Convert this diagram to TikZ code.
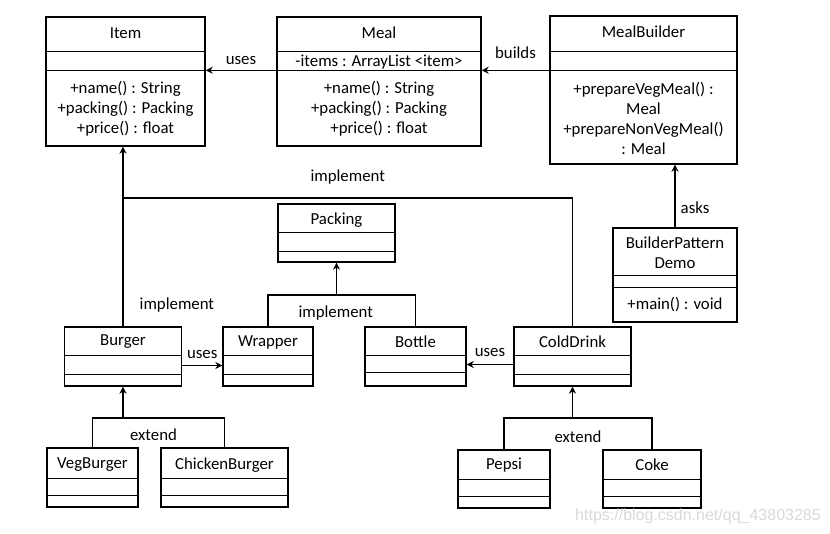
\documentclass[tikz,border=0pt]{standalone}
\usepackage{fontspec}
\setmainfont{Carlito}
\usetikzlibrary{arrows.meta,positioning}

\tikzset{
  cls/.style={draw, line width=1.4pt, inner sep=0pt},
  arr/.style={-{Stealth[length=7pt,width=7pt]}, line width=1.4pt},
  bar/.style={line width=1.4pt},
  txt/.style={font=\fontsize{16.8}{20}\selectfont, align=center, inner sep=1pt},
}

\begin{document}
\begin{tikzpicture}[x=1pt,y=-1pt]
\useasboundingbox (0,0) rectangle (830,534);

% top row
\node[cls, minimum width=159pt, minimum height=129pt] (item) at (125.5,81.5) {};
\node[cls, minimum width=204pt, minimum height=129pt] (meal) at (379,81.5) {};
\node[cls, minimum width=187pt, minimum height=148pt] (mb) at (643.5,90) {};
\node[cls, minimum width=124pt, minimum height=94pt] (demo) at (675,275) {};
\node[cls, minimum width=117pt, minimum height=58pt] (packing) at (336.5,233) {};

% middle row
\node[cls, minimum width=117pt, minimum height=59pt] (burger) at (123,356.5) {};
\node[cls, minimum width=90pt, minimum height=59pt] (wrapper) at (268,356.5) {};
\node[cls, minimum width=101pt, minimum height=59pt] (bottle) at (415.5,356.5) {};
\node[cls, minimum width=117pt, minimum height=59pt] (colddrink) at (572.5,356.5) {};

% bottom row
\node[cls, minimum width=91pt, minimum height=59pt] (vegburger) at (92.5,477.5) {};
\node[cls, minimum width=127pt, minimum height=59pt] (chickenburger) at (224.5,477.5) {};
\node[cls, minimum width=92pt, minimum height=58pt] (pepsi) at (504,479) {};
\node[cls, minimum width=98pt, minimum height=58pt] (coke) at (652,479) {};

% compartments
\foreach \c/\a/\b in {item/35/54, meal/35/54, mb/36/55, demo/48/60, packing/29/48,
    burger/29/48, wrapper/29/48, bottle/29/46, colddrink/29/48,
    vegburger/31/48, chickenburger/31/48, pepsi/30/47, coke/30/47} {
  \draw[bar] ([yshift=-\a pt]\c.north west) -- ([yshift=-\a pt]\c.north east);
  \draw[bar] ([yshift=-\b pt]\c.north west) -- ([yshift=-\b pt]\c.north east);
}

% texts
\node[txt] (itemT) at (125.5,33) {Item};
\node[txt] (itemM) at (125.5,109) {+name() : String\\+packing() : Packing\\+price() : float};
\node[txt] (mealT) at (379,33) {Meal};
\node[txt] (mealA) at (379,62) {-items : ArrayList <item>};
\node[txt] (mealM) at (379,109) {+name() : String\\+packing() : Packing\\+price() : float};
\node[txt] (mbT) at (643.5,32) {MealBuilder};
\node[txt] (mbM) at (643.5,118) {+prepareVegMeal() :\\Meal\\+prepareNonVegMeal()\\: Meal};
\node[txt] (demoT) at (675,253) {BuilderPattern\\Demo};
\node[txt] (demoM) at (675,305) {+main() : void};
\node[txt] (packingT) at (336.5,220) {Packing};
\node[txt] (burgerT) at (123,342) {Burger};
\node[txt] (wrapperT) at (268,342) {Wrapper};
\node[txt] (bottleT) at (415.5,342) {Bottle};
\node[txt] (colddrinkT) at (572.5,342) {ColdDrink};
\node[txt] (vegburgerT) at (92.5,465) {VegBurger};
\node[txt] (chickenburgerT) at (224.5,465) {ChickenBurger};
\node[txt] (pepsiT) at (504,465) {Pepsi};
\node[txt] (cokeT) at (652,465) {Coke};

% connectors
\coordinate (implY) at (0,198);
\coordinate (pkJoin) at (336.5,295);
\coordinate (bgJoin) at (123,418);
\coordinate (cdJoin) at (572.5,418);

\draw[arr] ([yshift=-54pt]meal.north west) -- ([yshift=-54pt]item.north east)
  node[txt, midway, above=4pt] {uses};
\draw[arr] ([yshift=-55pt]mb.north west) -- ([yshift=-54pt]meal.north east)
  node[txt, midway, above=10pt] {builds};
\draw[arr] (demo.north) -- (demo.north |- mb.south)
  node[txt, pos=0.32, right=4pt] {asks};

\draw[arr] (burger.north) -- (burger.north |- item.south)
  node[txt, pos=0.12, right=15pt] {implement};
\draw[bar] (colddrink.north) |- (burger.north |- implY)
  node[txt, pos=0.75, above=12pt] {implement};

\draw[bar] (wrapper.north) |- (bottle.north |- pkJoin)
  node[txt, pos=0.75, below=9pt, xshift=-6pt] {implement} -- (bottle.north);
\draw[arr] (pkJoin) -- (packing.south);

\draw[arr] ([yshift=-9pt]burger.east) -- ([yshift=-9pt]wrapper.west)
  node[txt, midway, above=5pt] {uses};
\draw[arr] ([yshift=-8pt]colddrink.west) -- ([yshift=-8pt]bottle.east)
  node[txt, midway, above=6pt] {uses};

\draw[bar] (vegburger.north) |- (chickenburger.north |- bgJoin)
  node[txt, pos=0.75, below=9pt, xshift=-5pt] {extend} -- (chickenburger.north);
\draw[arr] (bgJoin) -- (burger.south);
\draw[bar] (pepsi.north) |- (coke.north |- cdJoin)
  node[txt, pos=0.75, below=11pt] {extend} -- (coke.north);
\draw[arr] (cdJoin) -- (colddrink.south);

%\draw[help lines] (0,0) grid[step=50] (830,534);
\node[font=\fontspec{Liberation Sans}\fontsize{16}{18}\selectfont, text=gray!30] (mark) at (698,516) {https://blog.csdn.net/qq\_43803285};
\end{tikzpicture}
\end{document}
